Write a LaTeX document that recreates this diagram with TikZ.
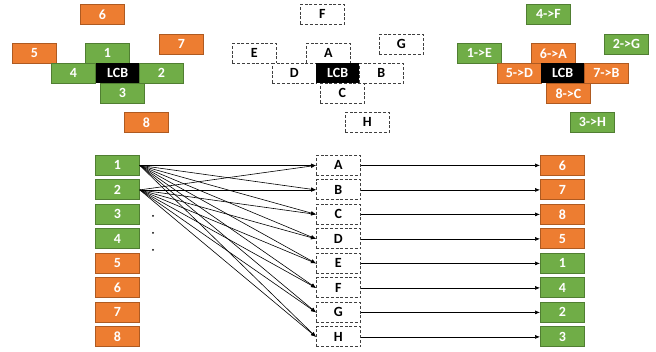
\documentclass[tikz,border=0pt]{standalone}
\usepackage{fontspec}
\setmainfont{Carlito}
\usetikzlibrary{arrows.meta}
\definecolor{org}{HTML}{ED7D31}
\definecolor{orgd}{HTML}{AE5A21}
\definecolor{grn}{HTML}{70AD47}
\definecolor{grnd}{HTML}{507E32}
\tikzset{
 base/.style={minimum width=44pt, minimum height=20pt, inner sep=0pt, font=\fontsize{14}{15}\selectfont\bfseries, anchor=north west},
 ob/.style={base, fill=org, draw=orgd, line width=0.8pt, text=white},
 gb/.style={base, fill=grn, draw=grnd, line width=0.8pt, text=white},
 db/.style={base, fill=white, draw=black!75, line width=0.8pt, dash pattern=on 3pt off 1.8pt},
 lcb/.style={base, minimum width=43pt, fill=black, text=white},
 arr/.style={-{Latex[length=5pt,width=4pt]}, line width=0.6pt},
}
\begin{document}
\begin{tikzpicture}[x=1pt,y=-1pt]
\useasboundingbox (0,0) rectangle (656,352);
% top-left cluster
\node[ob] (t6) at (80,4) {6};
\node[ob] (t7) at (159,34) {7};
\node[ob] (t5) at (12,43) {5};
\node[gb] (t1) at (85,43) {1};
\node[gb] (t4) at (51,63) {4};
\node[gb] (t2) at (139,63) {2};
\node[gb] (t3) at (100,83) {3};
\node[lcb] (tL) at (96,63) {LCB};
\node[ob] (t8) at (124,112) {8};
% middle cluster
\node[db] (mF) at (300,4) {F};
\node[db] (mG) at (379,34) {G};
\node[db] (mE) at (232,43) {E};
\node[db] (mA) at (306,43) {A};
\node[db] (mD) at (272,63) {D};
\node[db] (mB) at (359,63) {B};
\node[db] (mC) at (320,83) {C};
\node[lcb] (mL) at (316,63) {LCB};
\node[db] (mH) at (345,112) {H};
% right cluster
\node[gb] (r4F) at (526,4) {4->F};
\node[gb] (r2G) at (604,34) {2->G};
\node[gb] (r1E) at (457,43) {1->E};
\node[ob] (r6A) at (531,43) {6->A};
\node[ob] (r5D) at (497,63) {5->D};
\node[ob] (r7B) at (584,63) {7->B};
\node[ob] (r8C) at (546,83) {8->C};
\node[lcb] (rL) at (541,63) {LCB};
\node[gb] (r3H) at (570,112) {3->H};
% bottom columns
\foreach \n/\s [count=\i from 0] in {1/gb,2/gb,3/gb,4/gb,5/ob,6/ob,7/ob,8/ob}
  \node[\s] (L\n) at (95,155+24.5*\i) {\n};
\foreach \n [count=\i from 0] in {A,B,C,D,E,F,G,H}
  \node[db] (M\n) at (316,155+24.5*\i) {\n};
\foreach \n/\s/\k [count=\i from 0] in {6/ob/A,7/ob/B,8/ob/C,5/ob/D,1/gb/E,4/gb/F,2/gb/G,3/gb/H}
  {\node[\s] (R\n) at (540,155+24.5*\i) {\n};
   \draw[arr] (M\k.east) -- (R\n.west);}
\foreach \s in {L1,L2}
  \foreach \t in {A,B,C,D,E,F,G,H}
    \draw[arr] (\s.east) -- (M\t.west);
\fill (153,216) circle (1pt);
\fill (153,233) circle (1pt);
\fill (153,250) circle (1pt);
\end{tikzpicture}
\end{document}
